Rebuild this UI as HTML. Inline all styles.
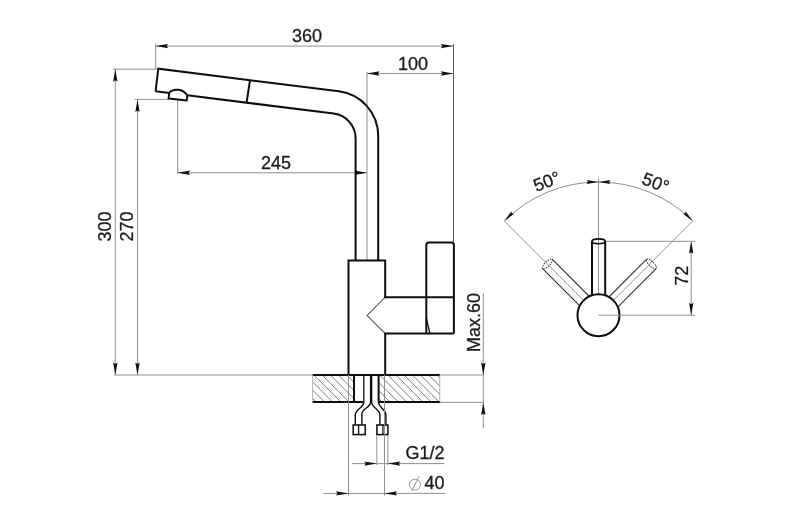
<!DOCTYPE html>
<html><head><meta charset="utf-8"><style>
html,body{margin:0;padding:0;background:#fff;}
svg{display:block;font-family:"Liberation Sans",sans-serif;}
svg{will-change:transform;}
</style></head><body>
<svg width="800" height="527" viewBox="0 0 800 527">
<rect width="800" height="527" fill="#fff"/>
<line x1="155.70" y1="43.50" x2="155.70" y2="69.00" stroke="#8f8f8f" stroke-width="1.0" />
<line x1="453.50" y1="44.00" x2="453.50" y2="242.50" stroke="#555" stroke-width="1" />
<line x1="155.70" y1="46.10" x2="453.40" y2="46.10" stroke="#8f8f8f" stroke-width="1.0" />
<path d="M155.70,46.10 L168.20,43.90 L166.70,46.10 L168.20,48.30 Z" fill="#111"/>
<path d="M453.40,46.10 L440.90,48.30 L442.40,46.10 L440.90,43.90 Z" fill="#111"/>
<text x="307.00" y="42.20" font-size="18" text-anchor="middle" fill="#1a1a1a" stroke="#1a1a1a" stroke-width="0.3">360</text>
<line x1="367.00" y1="72.00" x2="367.00" y2="260.50" stroke="#8f8f8f" stroke-width="1.0" />
<line x1="367.00" y1="73.50" x2="453.40" y2="73.50" stroke="#8f8f8f" stroke-width="1.0" />
<path d="M367.00,73.50 L379.50,71.30 L378.00,73.50 L379.50,75.70 Z" fill="#111"/>
<path d="M453.40,73.50 L440.90,75.70 L442.40,73.50 L440.90,71.30 Z" fill="#111"/>
<text x="413.00" y="69.80" font-size="18" text-anchor="middle" fill="#1a1a1a" stroke="#1a1a1a" stroke-width="0.3">100</text>
<line x1="177.70" y1="100.00" x2="177.70" y2="174.00" stroke="#8f8f8f" stroke-width="1.0" />
<line x1="177.70" y1="172.80" x2="367.00" y2="172.80" stroke="#8f8f8f" stroke-width="1.0" />
<path d="M177.70,172.80 L190.20,170.60 L188.70,172.80 L190.20,175.00 Z" fill="#111"/>
<path d="M367.00,172.80 L354.50,175.00 L356.00,172.80 L354.50,170.60 Z" fill="#111"/>
<text x="276.00" y="169.20" font-size="18" text-anchor="middle" fill="#1a1a1a" stroke="#1a1a1a" stroke-width="0.3">245</text>
<line x1="113.00" y1="69.20" x2="158.00" y2="69.20" stroke="#8f8f8f" stroke-width="1.0" />
<line x1="135.00" y1="99.40" x2="169.00" y2="99.40" stroke="#8f8f8f" stroke-width="1.0" />
<line x1="115.30" y1="69.20" x2="115.30" y2="375.00" stroke="#8f8f8f" stroke-width="1.0" />
<path d="M115.30,69.20 L117.50,81.70 L115.30,80.20 L113.10,81.70 Z" fill="#111"/>
<path d="M115.30,375.00 L113.10,362.50 L115.30,364.00 L117.50,362.50 Z" fill="#111"/>
<line x1="137.50" y1="99.40" x2="137.50" y2="375.00" stroke="#8f8f8f" stroke-width="1.0" />
<path d="M137.50,99.40 L139.70,111.90 L137.50,110.40 L135.30,111.90 Z" fill="#111"/>
<path d="M137.50,375.00 L135.30,362.50 L137.50,364.00 L139.70,362.50 Z" fill="#111"/>
<text x="111.30" y="226.50" font-size="18" text-anchor="middle" fill="#1a1a1a" stroke="#1a1a1a" stroke-width="0.3" transform="rotate(-90 111.30 226.50)">300</text>
<text x="133.30" y="226.50" font-size="18" text-anchor="middle" fill="#1a1a1a" stroke="#1a1a1a" stroke-width="0.3" transform="rotate(-90 133.30 226.50)">270</text>
<line x1="114.00" y1="375.00" x2="312.50" y2="375.00" stroke="#8f8f8f" stroke-width="1.0" />
<clipPath id="cl"><rect x="312.5" y="375" width="41.5" height="27.2"/><rect x="378.6" y="375" width="61.2" height="27.2"/></clipPath>
<path d="M264.70,375 L291.90,402.2 M272.90,375 L300.10,402.2 M281.10,375 L308.30,402.2 M289.30,375 L316.50,402.2 M297.50,375 L324.70,402.2 M305.70,375 L332.90,402.2 M313.90,375 L341.10,402.2 M322.10,375 L349.30,402.2 M330.30,375 L357.50,402.2 M338.50,375 L365.70,402.2 M346.70,375 L373.90,402.2 M354.90,375 L382.10,402.2 M363.10,375 L390.30,402.2 M371.30,375 L398.50,402.2 M379.50,375 L406.70,402.2 M387.70,375 L414.90,402.2 M395.90,375 L423.10,402.2 M404.10,375 L431.30,402.2 M412.30,375 L439.50,402.2 M420.50,375 L447.70,402.2 M428.70,375 L455.90,402.2 M436.90,375 L464.10,402.2 M445.10,375 L472.30,402.2 M453.30,375 L480.50,402.2 M461.50,375 L488.70,402.2 M469.70,375 L496.90,402.2" stroke="#7a7a7a" stroke-width="1" clip-path="url(#cl)" fill="none"/>
<line x1="312.50" y1="375.00" x2="440.00" y2="375.00" stroke="#0d0d0d" stroke-width="2.0" />
<line x1="312.50" y1="402.10" x2="363.80" y2="402.10" stroke="#0d0d0d" stroke-width="2.0" />
<line x1="378.60" y1="402.10" x2="440.00" y2="402.10" stroke="#0d0d0d" stroke-width="2.0" />
<line x1="312.60" y1="375.00" x2="312.60" y2="402.00" stroke="#aaa" stroke-width="0.9" />
<line x1="439.80" y1="375.00" x2="439.80" y2="402.00" stroke="#aaa" stroke-width="0.9" />
<line x1="440.00" y1="375.00" x2="484.00" y2="375.00" stroke="#8f8f8f" stroke-width="1.0" />
<line x1="440.00" y1="402.40" x2="484.00" y2="402.40" stroke="#8f8f8f" stroke-width="1.0" />
<line x1="354.00" y1="375.00" x2="354.00" y2="402.10" stroke="#0d0d0d" stroke-width="2.0" />
<line x1="378.60" y1="375.00" x2="378.60" y2="402.10" stroke="#0d0d0d" stroke-width="2.0" />
<line x1="363.80" y1="375.00" x2="363.80" y2="402.10" stroke="#222" stroke-width="1.4" />
<line x1="370.60" y1="375.00" x2="370.60" y2="402.10" stroke="#0d0d0d" stroke-width="1.4" />
<line x1="371.60" y1="375.00" x2="371.60" y2="402.10" stroke="#0d0d0d" stroke-width="1.4" />
<path d="M363.8,402.1 C363.8,408 355.3,409 355.3,415 L355.3,424.7" stroke="#0d0d0d" stroke-width="1.4" fill="none"/>
<path d="M370.6,402.1 C370.6,408 361.9,408 361.9,414 L361.9,424.7" stroke="#0d0d0d" stroke-width="1.4" fill="none"/>
<path d="M371.6,402.1 C371.6,408 379.9,409 379.9,415 L379.9,424.7" stroke="#0d0d0d" stroke-width="1.4" fill="none"/>
<path d="M378.6,402.1 C378.6,408 385.9,409 385.9,415 L385.9,424.7" stroke="#0d0d0d" stroke-width="1.4" fill="none"/>
<rect x="353.2" y="425" width="12" height="9.6" stroke="#0d0d0d" stroke-width="1.5" fill="none"/>
<line x1="358.60" y1="424.70" x2="358.60" y2="434.90" stroke="#0d0d0d" stroke-width="1.3" />
<rect x="376.9" y="425" width="11" height="9.6" stroke="#0d0d0d" stroke-width="1.5" fill="none"/>
<line x1="382.90" y1="424.70" x2="382.90" y2="434.90" stroke="#0d0d0d" stroke-width="1.3" />
<line x1="483.30" y1="293.50" x2="483.30" y2="428.50" stroke="#8f8f8f" stroke-width="1.0" />
<path d="M483.30,375.00 L481.10,362.50 L483.30,364.00 L485.50,362.50 Z" fill="#111"/>
<path d="M483.30,402.40 L485.50,414.90 L483.30,413.40 L481.10,414.90 Z" fill="#111"/>
<text x="479.50" y="322.50" font-size="18" text-anchor="middle" fill="#1a1a1a" stroke="#1a1a1a" stroke-width="0.3" transform="rotate(-90 479.50 322.50)">Max.60</text>
<line x1="376.80" y1="435.00" x2="376.80" y2="465.00" stroke="#8f8f8f" stroke-width="1.0" />
<line x1="387.80" y1="435.00" x2="387.80" y2="465.00" stroke="#8f8f8f" stroke-width="1.0" />
<line x1="351.80" y1="463.60" x2="444.50" y2="463.60" stroke="#8f8f8f" stroke-width="1.0" />
<path d="M376.80,463.60 L364.30,465.80 L365.80,463.60 L364.30,461.40 Z" fill="#111"/>
<path d="M387.80,463.60 L400.30,461.40 L398.80,463.60 L400.30,465.80 Z" fill="#111"/>
<text x="444.50" y="459.40" font-size="18" text-anchor="end" fill="#1a1a1a" stroke="#1a1a1a" stroke-width="0.3">G1/2</text>
<line x1="348.50" y1="375.00" x2="348.50" y2="495.50" stroke="#8f8f8f" stroke-width="1.0" />
<line x1="384.50" y1="375.00" x2="384.50" y2="495.50" stroke="#8f8f8f" stroke-width="1.0" />
<line x1="323.30" y1="493.40" x2="444.80" y2="493.40" stroke="#8f8f8f" stroke-width="1.0" />
<path d="M348.50,493.40 L336.00,495.60 L337.50,493.40 L336.00,491.20 Z" fill="#111"/>
<path d="M384.50,493.40 L397.00,491.20 L395.50,493.40 L397.00,495.60 Z" fill="#111"/>
<text x="444.50" y="489.40" font-size="18" text-anchor="end" fill="#1a1a1a" stroke="#1a1a1a" stroke-width="0.3">40</text>
<ellipse cx="414.9" cy="484.6" rx="5.6" ry="5.4" stroke="#9a9a9a" stroke-width="1" fill="none"/>
<line x1="411.60" y1="491.20" x2="419.20" y2="476.20" stroke="#9a9a9a" stroke-width="1" />
<path d="M348.5,375 L348.5,260.5 L385.2,260.5 L385.2,297.2" stroke="#0d0d0d" stroke-width="2.0" fill="none" stroke-linejoin="miter"/>
<path d="M385.2,333.5 L385.2,375" stroke="#0d0d0d" stroke-width="2.0" fill="none"/>
<path d="M385.2,297.2 L367,315.5 L385.2,333.5" stroke="#666" stroke-width="1.1" fill="none"/>
<line x1="384.20" y1="297.20" x2="453.90" y2="297.20" stroke="#0d0d0d" stroke-width="2.0" />
<line x1="384.20" y1="333.50" x2="453.90" y2="333.50" stroke="#0d0d0d" stroke-width="2.0" />
<path d="M426.3,333.5 L426.3,245 Q426.3,242.5 428.8,242.5 L451.4,242.5 Q453.9,242.5 453.9,245 L453.9,333.5" stroke="#0d0d0d" stroke-width="2.0" fill="none"/>
<line x1="426.30" y1="317.80" x2="429.90" y2="333.50" stroke="#0d0d0d" stroke-width="1.3" />
<path d="M155.6,91.3 L158.3,68.7 L338.78,91.26 A45,45 0 0 1 378.2,135.91 L378.2,260.5" stroke="#0d0d0d" stroke-width="2.0" fill="none"/>
<path d="M155.6,91.3 L169.2,93 M187.3,95.3 L333.70,113.56 A25,25 0 0 1 355.6,138.37 L355.6,260.5" stroke="#0d0d0d" stroke-width="2.0" fill="none"/>
<path d="M169.2,93 C171,90.5 175,89.6 178.2,89.8 C182,90 185,92.2 187.3,95.3 L186.8,100.4 L168.6,98.5 Z" stroke="#0d0d0d" stroke-width="2.0" fill="none" stroke-linejoin="round"/>
<line x1="250.00" y1="80.20" x2="246.60" y2="102.70" stroke="#0d0d0d" stroke-width="2.0" />
<path d="M504.31,221.01 A133.2,133.2 0 0 1 692.69,221.01" stroke="#8f8f8f" stroke-width="1" fill="none"/>
<line x1="598.50" y1="178.50" x2="598.50" y2="295.00" stroke="#8f8f8f" stroke-width="1.0" />
<line x1="504.31" y1="221.01" x2="583.65" y2="300.35" stroke="#8a8a8a" stroke-width="0.9" />
<line x1="692.69" y1="221.01" x2="613.35" y2="300.35" stroke="#8a8a8a" stroke-width="0.9" />
<path d="M504.31,221.01 L511.46,211.18 L511.74,213.59 L514.14,213.87 Z" fill="#111"/>
<path d="M692.69,221.01 L682.86,213.87 L685.26,213.59 L685.54,211.18 Z" fill="#111"/>
<path d="M598.50,182.00 L586.50,183.90 L588.00,182.00 L586.50,180.10 Z" fill="#111"/>
<path d="M598.50,182.00 L610.50,180.10 L609.00,182.00 L610.50,183.90 Z" fill="#111"/>
<text x="549.00" y="187.20" font-size="18" text-anchor="middle" fill="#1a1a1a" stroke="#1a1a1a" stroke-width="0.3" transform="rotate(-21 549.00 187.20)">50°</text>
<text x="653.50" y="188.50" font-size="18" text-anchor="middle" fill="#1a1a1a" stroke="#1a1a1a" stroke-width="0.3" transform="rotate(21 653.50 188.50)">50°</text>
<path d="M592,295 L592,241.3 M605.2,241.3 L605.2,295" stroke="#0d0d0d" stroke-width="2.0" fill="none"/>
<ellipse cx="598.6" cy="241.3" rx="6.6" ry="2.4" stroke="#0d0d0d" stroke-width="1.6" fill="none"/>
<g transform="translate(0.9 0.8) rotate(-45 598.5 315.2)"><path d="M591.8,241.6 L591.8,298.2 M605.2,241.6 L605.2,298.2" stroke="#333" stroke-width="1.1" fill="none"/><ellipse cx="598.5" cy="241.6" rx="6.7" ry="2.4" stroke="#333" stroke-width="1.0" stroke-dasharray="1.5,1" fill="none"/></g>
<g transform="translate(0.9 0.8) rotate(45 598.5 315.2)"><path d="M591.8,241.6 L591.8,298.2 M605.2,241.6 L605.2,298.2" stroke="#333" stroke-width="1.1" fill="none"/><ellipse cx="598.5" cy="241.6" rx="6.7" ry="2.4" stroke="#333" stroke-width="1.0" stroke-dasharray="1.5,1" fill="none"/></g>
<circle cx="598.5" cy="315.2" r="21" stroke="#0d0d0d" stroke-width="2.0" fill="white"/>
<line x1="598.50" y1="315.20" x2="695.00" y2="315.20" stroke="#8f8f8f" stroke-width="1.0" />
<line x1="606.00" y1="241.30" x2="695.00" y2="241.30" stroke="#8f8f8f" stroke-width="1.0" />
<line x1="691.20" y1="241.30" x2="691.20" y2="315.20" stroke="#8f8f8f" stroke-width="1.0" />
<path d="M691.20,241.30 L693.40,253.80 L691.20,252.30 L689.00,253.80 Z" fill="#111"/>
<path d="M691.20,315.20 L689.00,302.70 L691.20,304.20 L693.40,302.70 Z" fill="#111"/>
<text x="688.40" y="275.80" font-size="18" text-anchor="middle" fill="#1a1a1a" stroke="#1a1a1a" stroke-width="0.3" transform="rotate(-90 688.40 275.80)">72</text>
</svg></body></html>
